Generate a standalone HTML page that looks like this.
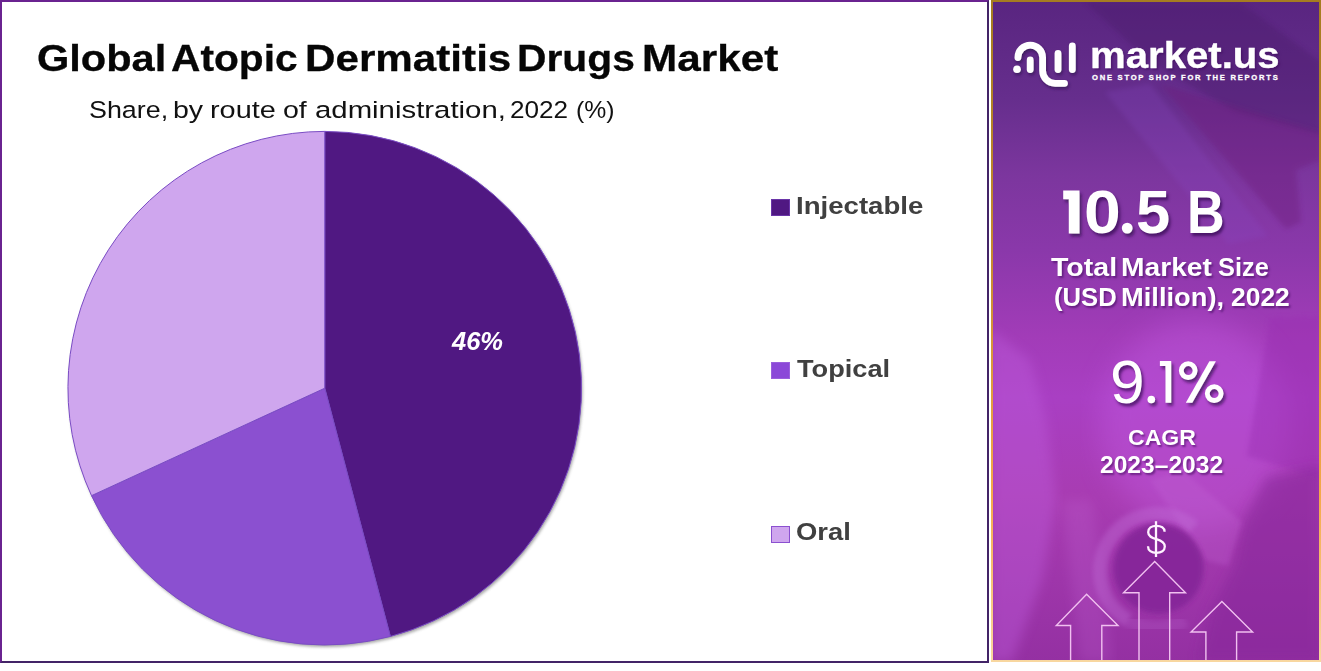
<!DOCTYPE html>
<html>
<head>
<meta charset="utf-8">
<title>Global Atopic Dermatitis Drugs Market</title>
<style>
  html, body { margin: 0; padding: 0; }
  body {
    width: 1321px; height: 671px; overflow: hidden; position: relative;
    background: #ffffff;
    font-family: "Liberation Sans", sans-serif;
  }
  .abs { position: absolute; }
  .t { position: absolute; white-space: nowrap; line-height: 1; transform-origin: left top; }

  /* left chart panel */
  #left {
    position: absolute; left: 0; top: 0; width: 989px; height: 663px;
    box-sizing: border-box; background: #ffffff;
    border-top: 2px solid #6a2390; border-left: 2px solid #6a2390;
    border-right: 2px solid #432467; border-bottom: 2px solid #432467;
  }
  #title { position: absolute; left: 0; top: 0; font-size: 0; }
  .tw { top: 39.5px; font-size: 37.5px; -webkit-text-stroke: 0.3px #060606; font-weight: bold; color: #060606; }
  #subtitle { position: absolute; left: 0; top: 0; font-size: 0; }
  .sw2 { top: 97.9px; font-size: 24.5px; color: #111111; }
  #pct { left: 452px; top: 327.5px; font-size: 26px; transform: scaleX(0.98); font-weight: bold; font-style: italic; color: #ffffff; }
  .leg { font-size: 24.5px; font-weight: bold; color: #404040; }
  .sw { position: absolute; left: 771px; width: 18.5px; height: 17.5px; box-sizing: border-box; }

  /* right info panel */
  #right {
    position: absolute; left: 991px; top: 0; width: 330px; height: 662px;
    box-sizing: border-box; overflow: hidden;
    background: linear-gradient(180deg, #592580 0%, #662e8d 15%, #7c369e 26.5%, #8a38aa 37.7%, #a23cb8 51%, #a93fc3 60%, #a83cb2 75%, #9430a2 100%);
  }
  #rborder {
    position: absolute; left: 991px; top: 0; width: 330px; height: 662px; box-sizing: border-box;
    border: 2px solid; border-image: linear-gradient(180deg, #a67c20 0%, #c98a30 40%, #f5a94a 75%, #f8d7a0 100%) 1;
  }
  #tm1, #tm2 { position: absolute; left: 0; top: 0; font-size: 0; }
  .tmw { font-size: 25px; font-weight: bold; }
  .w { color: #ffffff; text-shadow: 1.5px 2px 2px rgba(60,10,90,0.55); }
  .big { text-shadow: 2px 3px 3px rgba(50,8,80,0.7); }
</style>
</head>
<body>

<div id="left"></div>

<!-- pie chart -->
<svg class="abs" style="left:0;top:0" width="989" height="663" viewBox="0 0 989 663">
  <defs>
    <filter id="ps" x="-5%" y="-5%" width="110%" height="110%">
      <feGaussianBlur stdDeviation="1.6"/>
    </filter>
  </defs>
  <circle cx="326" cy="390.4" r="256.6" fill="#6b6b6b" opacity="0.6" filter="url(#ps)"/>
  <g stroke="#7a4cc4" stroke-width="1" stroke-linejoin="round">
    <path id="s1" d="M324.75 388.2 L324.75 131.40 A256.8 256.8 0 0 1 390.35 636.48 Z" fill="#501882"/>
    <path id="s2" d="M324.75 388.2 L390.35 636.48 A256.8 256.8 0 0 1 91.52 495.67 Z" fill="#8b50d0"/>
    <path id="s3" d="M324.75 388.2 L91.52 495.67 A256.8 256.8 0 0 1 324.75 131.40 Z" fill="#cfa6ee"/>
  </g>
</svg>

<div id="title"><span class="t tw" style="left:36.9px;transform:scaleX(1.108)">Global</span> <span class="t tw" style="left:171.2px;transform:scaleX(1.085)">Atopic</span> <span class="t tw" style="left:304.9px;transform:scaleX(1.125)">Dermatitis</span> <span class="t tw" style="left:517.4px;transform:scaleX(1.088)">Drugs</span> <span class="t tw" style="left:641.5px;transform:scaleX(1.127)">Market</span></div>
<div id="subtitle"><span class="t sw2" style="left:89.1px;transform:scaleX(1.096)">Share,</span> <span class="t sw2" style="left:172.7px;transform:scaleX(1.163)">by</span> <span class="t sw2" style="left:210.1px;transform:scaleX(1.179)">route</span> <span class="t sw2" style="left:283.3px;transform:scaleX(1.165)">of</span> <span class="t sw2" style="left:315.1px;transform:scaleX(1.198)">administration,</span> <span class="t sw2" style="left:510.2px;transform:scaleX(1.066)">2022</span> <span class="t sw2" style="left:576.4px;transform:scaleX(1.011)">(%)</span></div>
<div class="t" id="pct">46%</div>

<div class="sw" style="top:198.5px;background:#501882;border:1px solid #6a35a8"></div>
<div class="t leg" id="l1" style="left:796px;top:194.2px;transform:scaleX(1.127)">Injectable</div>
<div class="sw" style="top:361.5px;background:#8b48d8;border:1px solid #9a60dc"></div>
<div class="t leg" id="l2" style="left:796.5px;top:356.7px;transform:scaleX(1.109)">Topical</div>
<div class="sw" style="top:525.5px;background:#cfa6ee;border:1.5px solid #8b50d0"></div>
<div class="t leg" id="l3" style="left:795.5px;top:519.7px;transform:scaleX(1.117)">Oral</div>

<div id="right">
  <svg class="abs" style="left:0;top:0" width="330" height="662" viewBox="991 0 330 662">
    <defs>
      <filter id="lsh" x="-20%" y="-20%" width="150%" height="150%"><feDropShadow dx="1.2" dy="2.2" stdDeviation="1.6" flood-color="#2a0848" flood-opacity="0.65"/></filter>
      <filter id="tsh" x="-30%" y="-10%" width="180%" height="130%"><feDropShadow dx="2" dy="3" stdDeviation="1.5" flood-color="#320850" flood-opacity="0.7"/></filter>
      <filter id="b6"><feGaussianBlur stdDeviation="6"/></filter>
      <filter id="b3"><feGaussianBlur stdDeviation="2.5"/></filter>
      <filter id="b12"><feGaussianBlur stdDeviation="14"/></filter>
    </defs>
    <!-- soft photo-like shading -->
    <polygon points="1085,2 1240,2 1321,62 1321,135 1235,112 1150,62" fill="#4c1a6c" opacity="0.40" filter="url(#b3)"/>
    <polygon points="1160,84 1321,132 1321,160 1296,170 1301,222 1286,229" fill="#6e1f7c" opacity="0.40" filter="url(#b3)"/>
    <polygon points="1105,92 1150,84 1268,236 1228,244" fill="#8a4cc8" opacity="0.22" filter="url(#b3)"/>
    <ellipse cx="1195" cy="425" rx="95" ry="105" fill="#c860ea" opacity="0.34" filter="url(#b12)"/>
    <path d="M991 330 L1030 360 L1046 420 L1056 500 L1042 580 L1012 662 L991 662 Z" fill="#be5cdc" opacity="0.42" filter="url(#b6)"/>
    <path d="M1062 500 L1092 500 L1112 662 L1080 662 Z" fill="#c468d8" opacity="0.22" filter="url(#b6)"/>
    <polygon points="1270,318 1319,316 1319,478 1247,456" fill="#9a2eb2" opacity="0.42" filter="url(#b3)"/>
    <path d="M1321 466 L1266 478 L1244 520 L1234 566 L1210 612 L1198 662 L1321 662 Z" fill="#86269a" opacity="0.55" filter="url(#b6)"/>
    <path d="M1150 480 L1182 470 L1242 522 L1228 566 L1205 560 Z" fill="#c264d6" opacity="0.30" filter="url(#b3)"/>
    <!-- cup -->
    <path d="M1128.5 620.4 A57 57 0 1 1 1193.6 527.3" fill="none" stroke="#c676de" stroke-width="14" opacity="0.34" filter="url(#b3)"/>
    <path d="M1185.5 620.4 A57 57 0 0 1 1128.5 620.4" fill="none" stroke="#c676de" stroke-width="14" opacity="0.18" filter="url(#b3)"/>
    <circle cx="1158.5" cy="568.5" r="45" fill="#86289a" opacity="0.95" filter="url(#b3)"/>
    <!-- arrows -->
    <g fill="none" stroke="#f1c0f0" stroke-width="1.4" stroke-linejoin="miter">
      <path d="M1139 662 L1139 592.7 L1123.5 592.7 L1154.7 561.5 L1185.5 592.7 L1169.7 592.7 L1169.7 662"/>
      <path d="M1070.6 662 L1070.6 625.5 L1056.3 625.5 L1086.6 594.2 L1118 625.5 L1101.8 625.5 L1101.8 662"/>
      <path d="M1205.9 662 L1205.9 632 L1191 632 L1221.9 601.6 L1252.6 632 L1236.6 632 L1236.6 662"/>
    </g>
    <!-- digit 1 shapes -->
    <g fill="#ffffff" filter="url(#tsh)">
      <polygon points="1063.2,190.6 1079.5,190.6 1079.5,233.4 1068.8,233.4 1068.8,199.2 1063.2,199.2"/>
      <polygon points="1159.9,361.1 1171.2,361.1 1171.2,402.8 1165.5,402.8 1165.5,366 1159.9,366"/>
      <circle cx="1127.2" cy="228.1" r="5.4"/>
      <circle cx="1151.3" cy="399.5" r="3.8"/>
      <polygon points="1209.4,361.3 1215.9,361.3 1192.3,402.8 1185.8,402.8"/>
    </g>
    <g fill="none" stroke="#ffffff" stroke-width="4.8" filter="url(#tsh)">
      <circle cx="1188.2" cy="370.6" r="6.9"/>
      <circle cx="1214.2" cy="393.6" r="6.9"/>
    </g>
    <!-- dollar -->
    <g fill="none" stroke="#fff2ff" stroke-width="2.3" stroke-linecap="butt">
      <path d="M1164.6 531.8 C1164.6 527.8 1161 525.8 1156.4 525.8 C1151.6 525.8 1148.2 528.2 1148.2 532.2 C1148.2 536.4 1151.8 537.8 1156.4 539.2 C1161.2 540.6 1164.8 542.2 1164.8 546.6 C1164.8 550.6 1161.2 552.8 1156.4 552.8 C1151.4 552.8 1148 550.4 1148 546.2"/>
      <path d="M1156 521.2 L1156 557"/>
    </g>
    <!-- logo mark -->
    <g filter="url(#lsh)">
    <g fill="none" stroke="#ffffff" stroke-width="6.8" stroke-linecap="round" stroke-linejoin="round">
      <path d="M1017.9 57.5 A12.35 12.35 0 0 1 1042.6 57.5 L1042.6 70.8 A12.5 12.5 0 0 0 1055.1 83.3 L1064.5 83.3"/>
      <path d="M1030.2 60 L1030.2 69.5"/>
      <path d="M1058 53.5 L1058 69.5"/>
      <path d="M1072.3 46 L1072.3 69.5"/>
    </g>
    <circle cx="1017" cy="69.3" r="3.8" fill="#ffffff"/>
    </g>
  </svg>
</div>
<div id="rborder"></div>

<div class="t w" id="brand" style="-webkit-text-stroke:0.35px #fff;left:1089.5px;top:37.5px;font-size:36px;font-weight:bold;transform:scaleX(1.115)">market.us</div>
<div class="t w" id="tag" style="left:1092px;top:73.5px;-webkit-text-stroke:0.3px #fff;font-size:7.6px;font-weight:bold;letter-spacing:1.75px;text-shadow:none">ONE STOP SHOP FOR THE REPORTS</div>
<div class="t w big" id="b1_1" style="left:1060px;top:180.7px;font-size:62px;font-weight:bold;color:transparent;text-shadow:none;transform:scaleX(0.5)">1</div>
<div class="t w big" id="b1_0" style="left:1083.6px;top:180.7px;font-size:62px;font-weight:bold;transform:scaleX(1.067)">0</div>
<div class="t w big" id="b1_d" style="color:transparent;text-shadow:none;left:1117px;top:180.7px;font-size:62px;font-weight:bold;transform:scaleX(1.21)">.</div>
<div class="t w big" id="b1_5" style="left:1136px;top:180.7px;font-size:62px;font-weight:bold;transform:scaleX(0.994)">5</div>
<div class="t w big" id="b1_B" style="left:1186.5px;top:180.7px;font-size:62px;font-weight:bold;transform:scaleX(0.842)">B</div>
<div class="t w big" id="b2_9" style="left:1109.7px;top:351.9px;font-size:60.5px;transform:scaleX(1.03)">9</div>
<div class="t w big" id="b2_d" style="color:transparent;text-shadow:none;left:1139.9px;top:352.2px;font-size:60.5px;transform:scaleX(1.29)">.</div>
<div class="t w big" id="b2_1" style="left:1158px;top:351.4px;font-size:60.5px;color:transparent;text-shadow:none;transform:scaleX(0.4)">1</div>
<div class="t w big" id="b2_p" style="color:transparent;text-shadow:none;left:1177.2px;top:351.9px;font-size:60.5px;transform:scaleX(0.894)">%</div>
<div id="tm1"><span class="t w tmw" style="left:1051.4px;top:254.8px;transform:scaleX(1.143)">Total</span> <span class="t w tmw" style="left:1120.5px;top:254.8px;transform:scaleX(1.128)">Market</span> <span class="t w tmw" style="left:1217.6px;top:254.8px;transform:scaleX(1.017)">Size</span></div>
<div id="tm2"><span class="t w tmw" style="left:1053.8px;top:284.8px;transform:scaleX(1.027)">(USD</span> <span class="t w tmw" style="left:1121.0px;top:284.8px;transform:scaleX(1.092)">Million),</span> <span class="t w tmw" style="left:1230.8px;top:284.8px;transform:scaleX(1.057)">2022</span></div>
<div class="t w" id="cg1" style="left:1127.5px;top:426.7px;font-size:22.5px;font-weight:bold;transform:scaleX(1.025)">CAGR</div>
<div class="t w" id="cg2" style="left:1099.5px;top:454.2px;font-size:23px;font-weight:bold;transform:scaleX(1.07)">2023–2032</div>


</body>
</html>
